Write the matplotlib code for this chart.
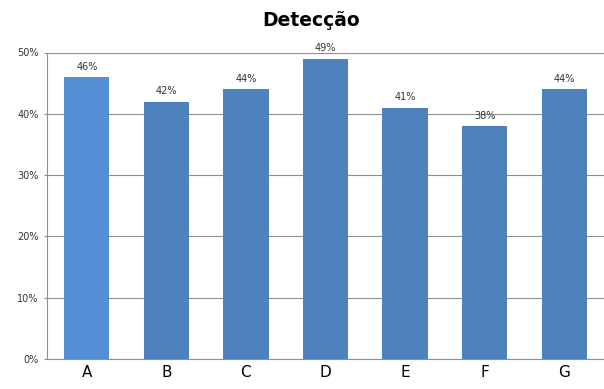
import matplotlib
matplotlib.use("Agg")
import matplotlib.pyplot as plt
from matplotlib.ticker import PercentFormatter

categories = ["A", "B", "C", "D", "E", "F", "G"]
values = [46, 42, 44, 49, 41, 38, 44]
colors = ["#558ED5", "#4F81BD", "#4F81BD", "#4F81BD", "#4F81BD", "#4F81BD", "#4F81BD"]
yticks = [0, 10, 20, 30, 40, 50]

fig = plt.figure(figsize=(6.04, 3.89), dpi=100)
ax = fig.add_axes([47 / 604, 30 / 389, 1 - 47 / 604, (359 - 52.5) / 389])

x = range(len(categories))
bars = ax.bar(x, values, width=0.57, color=colors, zorder=3)
for xi, v in zip(x, values):
    ax.text(xi, v + 0.9, f"{v}%", ha="center", va="bottom", fontsize=7, color="#333333")

ax.set_xlim(-0.5, len(categories) - 0.5)
ax.set_ylim(0, 50)
ax.set_yticks(yticks)
ax.yaxis.set_major_formatter(PercentFormatter(decimals=0))
ax.set_xticks(list(x))
ax.set_xticklabels(categories, fontsize=11)
ax.tick_params(axis="y", labelsize=7, length=2, color="#909090", pad=4, labelcolor="#333333")
ax.tick_params(axis="x", length=0, pad=4)
ax.grid(axis="y", color="#909090", linewidth=0.8, zorder=0)
for s in ["top", "right"]:
    ax.spines[s].set_visible(False)
for s in ["left", "bottom"]:
    ax.spines[s].set_color("#909090")
    ax.spines[s].set_linewidth(0.8)

fig.text(311 / 604, 1 - 21 / 389, "Detecção", ha="center", va="center",
         fontsize=13.5, fontweight="bold")

fig.savefig("out.png", dpi=100)
